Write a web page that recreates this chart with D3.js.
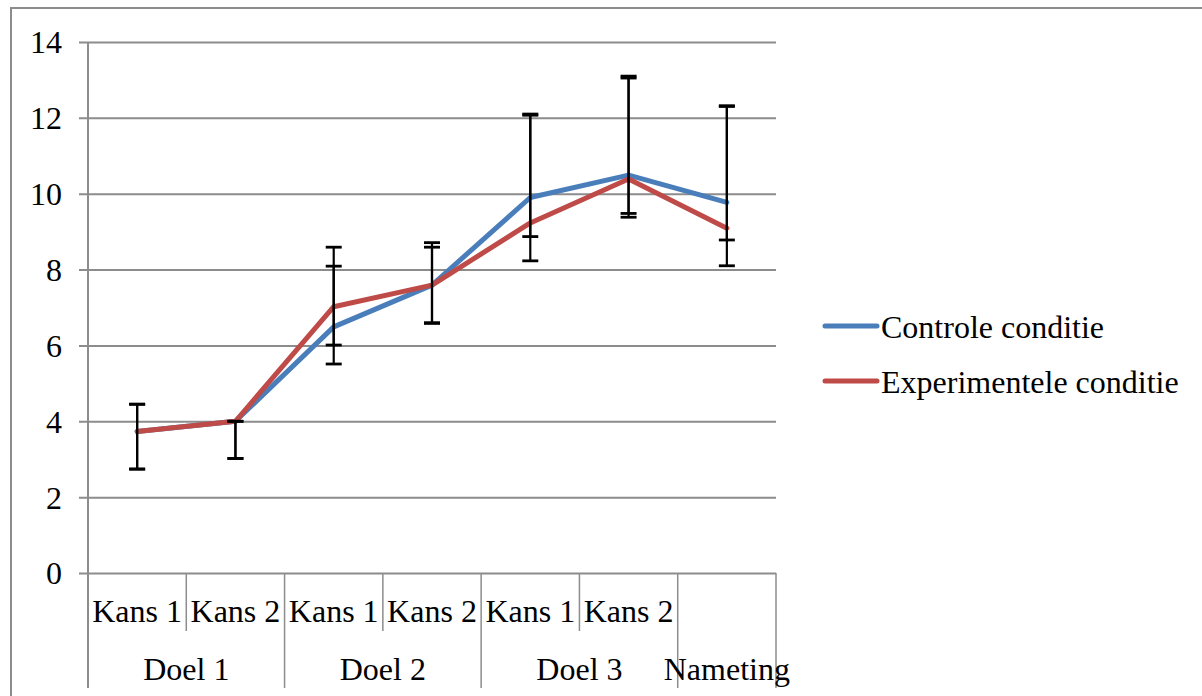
<!DOCTYPE html>
<html>
<head>
<meta charset="utf-8">
<script src="https://cdn.jsdelivr.net/npm/d3@7"></script>
<style>
  html, body { margin: 0; padding: 0; background: #fff; }
  svg { display: block; }
  text { font-family: "Liberation Serif", "Times New Roman", serif; fill: #000; }
</style>
</head>
<body>
<svg id="chart" width="1202" height="696"></svg>
<script>
// ---- data ----
const kansLabels = ["Kans 1", "Kans 2", "Kans 1", "Kans 2", "Kans 1", "Kans 2", ""];
const groups = [
  { label: "Doel 1", start: 0, span: 2 },
  { label: "Doel 2", start: 2, span: 2 },
  { label: "Doel 3", start: 4, span: 2 },
  { label: "Nameting", start: 6, span: 1 }
];
const seriesNames = ["Controle conditie", "Experimentele conditie"];
const controleValues = [3.73, 4.0, 6.49, 7.59, 9.9, 10.49, 9.77];
const experimenteleValues = [3.73, 4.0, 7.02, 7.59, 9.23, 10.39, 9.09];
const controleErrLow  = [2.74, 3.02, 5.51, 6.60, 8.23, 9.38, 8.10];
const controleErrHigh = [4.45, 4.00, 8.59, 8.71, 12.10, 13.10, 12.32];
const experimenteleErrLow  = [2.74, 3.02, 6.01, 6.58, 8.87, 9.48, 8.78];
const experimenteleErrHigh = [4.45, 4.00, 8.09, 8.59, 12.07, 13.05, 12.30];
const yTicks = [0, 2, 4, 6, 8, 10, 12, 14];
const colors = ["#4A7EBB", "#BE4B48"];

(function () {
const series = [
  { name: seriesNames[0], values: controleValues, lo: controleErrLow, hi: controleErrHigh, color: colors[0] },
  { name: seriesNames[1], values: experimenteleValues, lo: experimenteleErrLow, hi: experimenteleErrHigh, color: colors[1] }
];

// ---- layout ----
const svg = d3.select("#chart");
const pLeft = 88, pRight = 776, pTop = 42, pBottom = 573;
const fontSize = 32;

const x = d3.scaleBand().domain(d3.range(kansLabels.length)).range([pLeft, pRight]).padding(0);
const bw = x.bandwidth();
const cx = i => x(i) + bw / 2;
const y = d3.scaleLinear().domain([0, 14]).range([pBottom, pTop]);

// outer frame (top + left visible)
svg.append("path")
  .attr("d", `M11,696 L11,8 L1202,8`)
  .attr("fill", "none").attr("stroke", "#8c8c8c").attr("stroke-width", 2);

// y axis with gridlines
const yAxis = d3.axisLeft(y).tickValues(yTicks).tickSize(-(pRight - 79)).tickPadding(17).tickFormat(d3.format("d"));
const gy = svg.append("g").attr("transform", `translate(79,0)`).call(yAxis);
gy.select(".domain").remove();
gy.selectAll(".tick line").attr("stroke", "#8c8c8c").attr("stroke-width", 2);
gy.selectAll(".tick text").attr("font-size", fontSize).attr("fill", "#000").attr("dy", "0.34em");

// vertical axis line
svg.append("line").attr("x1", pLeft).attr("x2", pLeft).attr("y1", pTop).attr("y2", 688)
  .attr("stroke", "#8c8c8c").attr("stroke-width", 2);

// category separators
const boundaries = d3.range(kansLabels.length + 1);
const groupBounds = new Set();
groups.forEach(g => { groupBounds.add(g.start); groupBounds.add(g.start + g.span); });
svg.append("g").selectAll("line").data(boundaries.filter(b => b > 0)).join("line")
  .attr("x1", b => pLeft + b * bw).attr("x2", b => pLeft + b * bw)
  .attr("y1", pBottom).attr("y2", b => groupBounds.has(b) ? 688 : 631)
  .attr("stroke", "#8c8c8c").attr("stroke-width", 1.5);

// kans labels
svg.append("g").selectAll("text").data(kansLabels).join("text")
  .attr("x", (d, i) => cx(i)).attr("y", 622)
  .attr("text-anchor", "middle").attr("font-size", fontSize).text(d => d);

// group labels
svg.append("g").selectAll("text").data(groups).join("text")
  .attr("x", g => pLeft + (g.start + g.span / 2) * bw).attr("y", 680)
  .attr("text-anchor", "middle").attr("font-size", fontSize).text(g => g.label);

// lines
const line = d3.line().x((d, i) => cx(i)).y(d => y(d));
series.forEach(s => {
  svg.append("path").datum(s.values).attr("d", line)
    .attr("fill", "none").attr("stroke", s.color).attr("stroke-width", 5)
    .attr("stroke-linejoin", "round").attr("stroke-linecap", "round");
});

// error bars
const capW = 16;
series.forEach(s => {
  const g = svg.append("g").attr("stroke", "#000");
  s.values.forEach((v, i) => {
    g.append("line").attr("x1", cx(i)).attr("x2", cx(i)).attr("y1", y(s.lo[i])).attr("y2", y(s.hi[i])).attr("stroke-width", 2.2);
    [s.lo[i], s.hi[i]].forEach(e => {
      g.append("line").attr("x1", cx(i) - capW / 2).attr("x2", cx(i) + capW / 2)
        .attr("y1", y(e)).attr("y2", y(e)).attr("stroke-width", 2.8);
    });
  });
});

// legend
const legendY = [326, 381];
const lg = svg.append("g");
series.forEach((s, k) => {
  lg.append("line").attr("x1", 825).attr("x2", 877).attr("y1", legendY[k]).attr("y2", legendY[k])
    .attr("stroke", s.color).attr("stroke-width", 5).attr("stroke-linecap", "round");
  lg.append("text").attr("x", 881).attr("y", legendY[k] + 12).attr("font-size", fontSize).text(s.name);
});
})();
</script>
</body>
</html>
